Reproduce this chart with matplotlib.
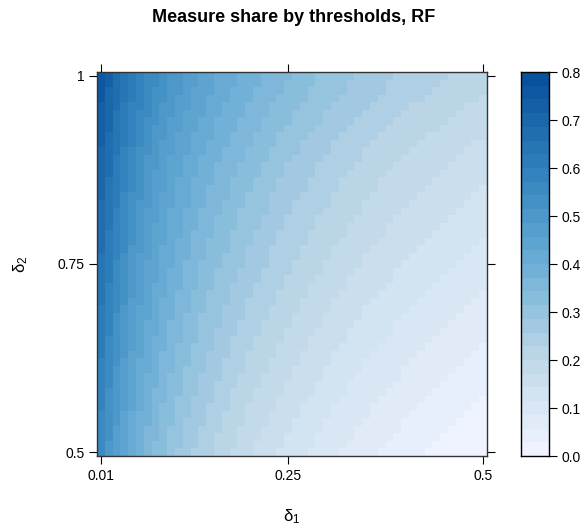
import numpy as np
import matplotlib
matplotlib.use("Agg")
import matplotlib.pyplot as plt
from matplotlib.colors import ListedColormap, BoundaryNorm, LinearSegmentedColormap

plt.rcParams['font.family'] = ['Liberation Sans', 'DejaVu Sans']
plt.rcParams['mathtext.default'] = 'regular'

# thresholds
delta1 = np.round(np.arange(0.01, 0.501, 0.01), 2)   # 50 columns
delta2 = np.round(np.arange(0.50, 1.001, 0.01), 2)   # 51 rows

# share read along top row (delta2 = 1) for each delta1
share_top = [0.760, 0.720, 0.680, 0.645, 0.615, 0.590, 0.567, 0.547, 0.528, 0.510,
             0.494, 0.479, 0.465, 0.452, 0.440, 0.428, 0.417, 0.406, 0.396, 0.386,
             0.377, 0.368, 0.359, 0.351, 0.343, 0.335, 0.328, 0.321, 0.314, 0.307,
             0.300, 0.294, 0.288, 0.282, 0.276, 0.271, 0.266, 0.261, 0.256, 0.251,
             0.246, 0.242, 0.238, 0.234, 0.230, 0.226, 0.222, 0.218, 0.214, 0.210]

# share read along left column (delta1 = 0.01) for each delta2
share_left = [0.550, 0.554, 0.558, 0.562, 0.566, 0.570, 0.574, 0.578, 0.582, 0.586,
              0.590, 0.594, 0.598, 0.602, 0.606, 0.610, 0.614, 0.618, 0.622, 0.626,
              0.630, 0.634, 0.638, 0.642, 0.646, 0.650, 0.654, 0.658, 0.662, 0.666,
              0.670, 0.674, 0.678, 0.682, 0.686, 0.690, 0.694, 0.698, 0.702, 0.707,
              0.712, 0.717, 0.722, 0.727, 0.732, 0.737, 0.742, 0.747, 0.752, 0.756,
              0.760]

colorbar_ticks = [0.0, 0.1, 0.2, 0.3, 0.4, 0.5, 0.6, 0.7, 0.8]
x_ticks = [0.01, 0.25, 0.5]
x_ticklabels = ["0.01", "0.25", "0.5"]
y_ticks = [0.5, 0.75, 1.0]
y_ticklabels = ["0.5", "0.75", "1"]

st = np.array(share_top)
sl = np.array(share_left)
Z = sl[:, None] + (st[None, :] - st[0])
Z = np.clip(Z, 0, None)

# colour scale (Blues ramp, banded)
nb = 28
levels = np.linspace(0, 0.8, nb + 1)
ramp = LinearSegmentedColormap.from_list("b5", ["#EFF3FF", "#BDD7E7", "#6BAED6", "#3182BD", "#08519C"])
cmap = ListedColormap([ramp(i / (nb - 1)) for i in range(nb)])
norm = BoundaryNorm(levels, nb)

fig = plt.figure(figsize=(5.88, 5.27), dpi=100)
ax = fig.add_axes([97/588, 1-456/527, 390/588, 384/527])

xe = np.concatenate([delta1 - 0.005, [delta1[-1] + 0.005]])
ye = np.concatenate([delta2 - 0.005, [delta2[-1] + 0.005]])
ax.pcolormesh(xe, ye, Z, cmap=cmap, norm=norm, shading='flat', edgecolors='none', antialiased=False)
ax.set_xlim(xe[0], xe[-1])
ax.set_ylim(ye[0], ye[-1])

ax.set_xticks(x_ticks)
ax.set_xticklabels(x_ticklabels)
ax.set_yticks(y_ticks)
ax.set_yticklabels(y_ticklabels)
ax.tick_params(direction='out', length=6, width=0.8, colors='black', labelsize=10,
               top=True, right=True, labeltop=False, labelright=False, pad=3)
for s in ax.spines.values():
    s.set_color('#333333')
    s.set_linewidth(1.0)
ax.set_xlabel(r'$\delta_1$', fontsize=12, labelpad=18)
ax.set_ylabel(r'$\delta_2$', fontsize=12, labelpad=20)

fig.text(0.5, 1-18/527, "Measure share by thresholds, RF", ha='center', va='center',
         fontsize=13, fontweight='bold')

cax = fig.add_axes([521/588, 1-456/527, 28/588, 384/527])
cax.pcolormesh([0, 1], levels, np.array(levels[:-1] + 1e-6)[:, None], cmap=cmap, norm=norm,
               shading='flat', antialiased=False)
cax.set_xlim(0, 1)
cax.set_ylim(0, 0.8)
cax.set_xticks([])
cax.yaxis.tick_right()
cax.set_yticks(colorbar_ticks)
cax.set_yticklabels([f"{v:.1f}" for v in colorbar_ticks])
cax.tick_params(direction='out', length=6, width=0.8, labelsize=10, pad=3)
for s in cax.spines.values():
    s.set_color('black')
    s.set_linewidth(1.0)

fig.savefig("out.png", dpi=100)
